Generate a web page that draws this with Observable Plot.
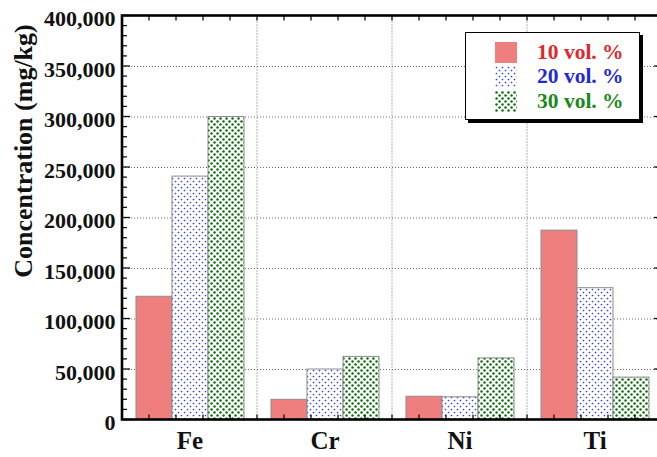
<!DOCTYPE html>
<html>
<head>
<meta charset="utf-8">
<script src="https://cdn.jsdelivr.net/npm/d3@7"></script>
<script src="https://cdn.jsdelivr.net/npm/@observablehq/plot@0.6"></script>
<style>
  html, body { margin: 0; padding: 0; background: #fff; }
  #wrap { position: relative; width: 657px; height: 457px; overflow: hidden; font-family: "Liberation Serif", "Times New Roman", serif; font-weight: bold; }
  #chart { position: absolute; left: 0; top: 0; }
  #ytitle { position: absolute; left: 24px; top: 151px; transform: translate(-50%, -50%) rotate(-90deg); white-space: nowrap; font-size: 26px; color: #111; }
  #legend { position: absolute; left: 465px; top: 32px; width: 173px; height: 86px; border: 1.5px solid #000; background: #fff; box-shadow: 3px 3px 0 #000; }
  .row { position: absolute; left: 29px; height: 22px; display: flex; align-items: center; }
  .row svg { display: block; }
  .row span { display: inline-block; height: 21px; line-height: 21px; margin-left: 20px; font-size: 21.5px; overflow: visible; }
</style>
</head>
<body>
<svg width="0" height="0" style="position:absolute">
  <defs>
    <pattern id="dotsBlue" width="6" height="6" patternUnits="userSpaceOnUse">
      <rect width="6" height="6" fill="#fff"/>
      <circle cx="1.5" cy="1.5" r="0.85" fill="#2a3ee0"/>
      <circle cx="4.5" cy="4.5" r="0.85" fill="#2a3ee0"/>
    </pattern>
    <pattern id="dotsGreen" width="6" height="6" patternUnits="userSpaceOnUse">
      <rect width="6" height="6" fill="#fff"/>
      <circle cx="1.5" cy="1.5" r="1.25" fill="#0b6e0b"/>
      <circle cx="4.5" cy="4.5" r="1.25" fill="#0b6e0b"/>
    </pattern>
  </defs>
</svg>
<div id="wrap">
  <div id="chart"></div>
  <div id="ytitle">Concentration (mg/kg)</div>
  <div id="legend"></div>
</div>
<script>
// ---- data ----
const elements = ["Fe", "Cr", "Ni", "Ti"];
const series = ["10 vol. %", "20 vol. %", "30 vol. %"];
const vol10 = [122000, 20000, 23000, 187500];
const vol20 = [241000, 50000, 22500, 130500];
const vol30 = [300000, 62500, 61000, 42000];
const yTicks = [0, 50000, 100000, 150000, 200000, 250000, 300000, 350000, 400000];

// ---- styles ----
const fills = ["#ef7f7f", "url(#dotsBlue)", "url(#dotsGreen)"];
const textColors = ["#e3262b", "#1f2ad6", "#1b8a1b"];

const allVals = [vol10, vol20, vol30];
const rows = series.map((s, si) => elements.map((e, i) => ({element: e, series: s, value: allVals[si][i]})));

const W = 657, H = 457;
const chart = Plot.plot({
  width: W,
  height: H,
  marginLeft: 122,
  marginRight: -5,
  marginTop: 15.5,
  marginBottom: 37.5,
  style: {fontFamily: "Liberation Serif, Times New Roman, serif", fontWeight: "bold", color: "#111", background: "transparent", overflow: "visible"},
  fx: {domain: elements, padding: 0},
  x: {domain: series, paddingInner: 0, paddingOuter: 0.375, axis: null},
  y: {domain: [0, 400000], axis: null},
  marks: [
    Plot.ruleY(yTicks.slice(1, -1), {stroke: "#6a6a6a", strokeWidth: 1, strokeDasharray: "1,2"}),
    ...rows.map((d, si) => Plot.barY(d, {fx: "element", x: "series", y: "value", fill: fills[si], stroke: "#8c8c8c", strokeWidth: 1})),
    Plot.axisY(yTicks, {anchor: "left", tickSize: 0, tickPadding: 7, tickFormat: d3.format(","), fontSize: 22, fontWeight: "bold", dy: 3, label: null}),
    Plot.axisFx({anchor: "bottom", tickSize: 0, tickPadding: 11, fontSize: 25, fontWeight: "bold", label: null})
  ]
});
document.getElementById("chart").appendChild(chart);

// ---- frame, boundary grid and inward ticks, positioned via Plot's scales ----
const svg = d3.select(chart);
const fx = chart.scale("fx"), y = chart.scale("y");
const bw = fx.bandwidth;
const left = fx.apply(elements[0]);
const right = fx.apply(elements[elements.length - 1]) + bw;
const y0 = y.apply(0), yTop = y.apply(400000);
const g = svg.append("g");
// vertical dotted boundaries
elements.slice(1).forEach(e => {
  const x = fx.apply(e);
  g.append("line").attr("x1", x).attr("x2", x).attr("y1", yTop).attr("y2", y0)
    .attr("stroke", "#6a6a6a").attr("stroke-dasharray", "1,2");
});
// y ticks (left & right), minor every 10,000
d3.range(0, 400001, 10000).forEach(v => {
  const yy = y.apply(v);
  const len = v % 50000 === 0 ? 8 : 5;
  g.append("line").attr("x1", left).attr("x2", left + len).attr("y1", yy).attr("y2", yy).attr("stroke", "#111").attr("stroke-width", 1.3);
  g.append("line").attr("x1", right).attr("x2", right - len).attr("y1", yy).attr("y2", yy).attr("stroke", "#111").attr("stroke-width", 1.3);
});
// x ticks (bottom & top), five per band
elements.forEach(e => {
  for (let k = 0; k < 5; k++) {
    const x = fx.apply(e) + k * bw / 5;
    g.append("line").attr("x1", x).attr("x2", x).attr("y1", y0).attr("y2", y0 - 5).attr("stroke", "#111").attr("stroke-width", 1.3);
    g.append("line").attr("x1", x).attr("x2", x).attr("y1", yTop).attr("y2", yTop + 5).attr("stroke", "#111").attr("stroke-width", 1.3);
  }
});
// outer frame
g.append("rect").attr("x", left).attr("y", yTop).attr("width", right - left).attr("height", y0 - yTop)
  .attr("fill", "none").attr("stroke", "#000").attr("stroke-width", 2.6);

// ---- legend ----
const legend = document.getElementById("legend");
series.forEach((s, i) => {
  const row = document.createElement("div");
  row.className = "row";
  row.style.top = (8 + i * 24.5) + "px";
  row.innerHTML = `<svg width="22" height="21"><rect width="22" height="21" fill="${fills[i]}"/></svg><span style="color:${textColors[i]}">${s}</span>`;
  legend.appendChild(row);
});
</script>
</body>
</html>
